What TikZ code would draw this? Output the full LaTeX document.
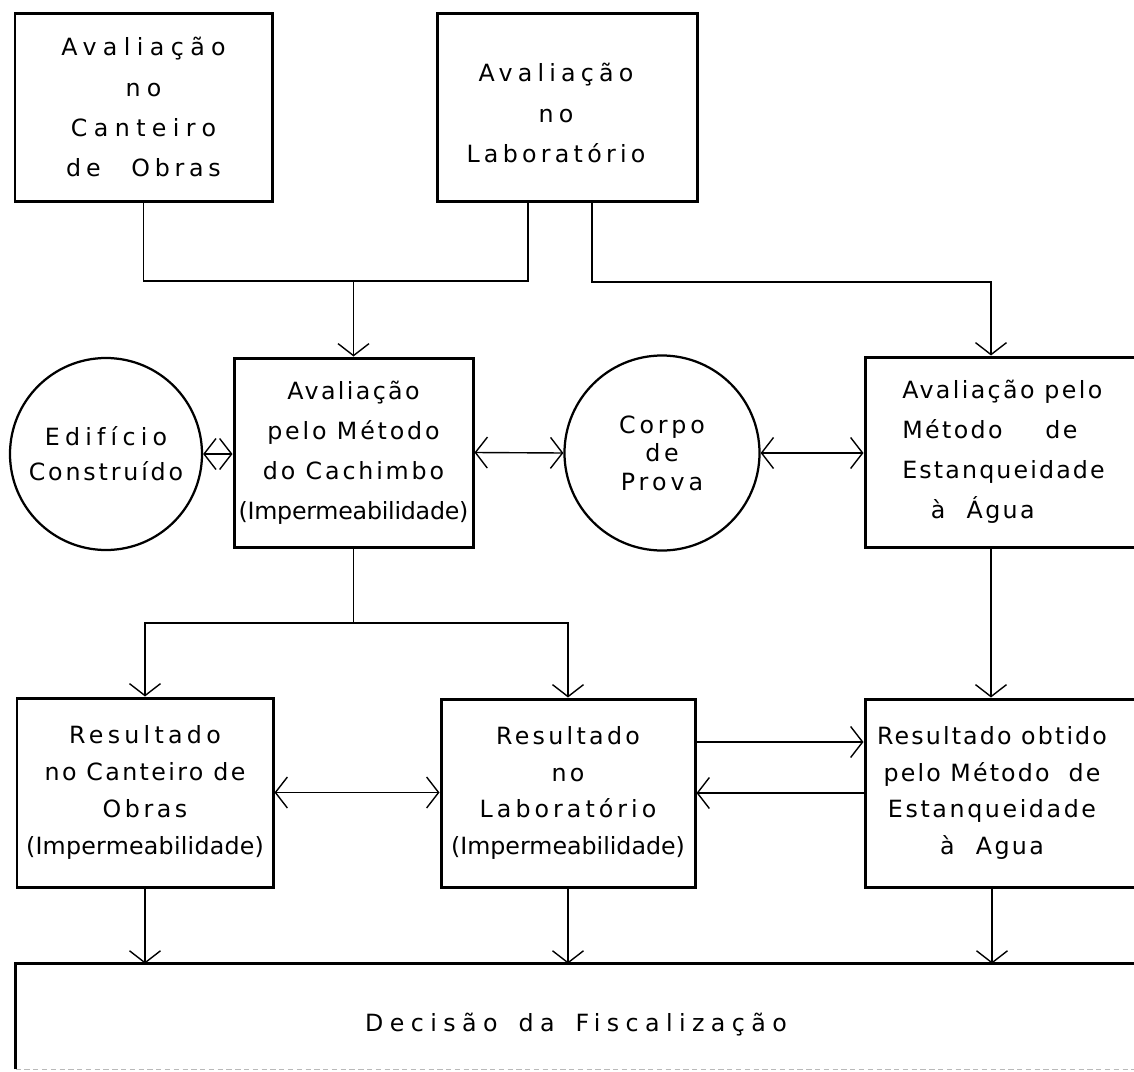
\documentclass[tikz,border=0pt]{standalone}
\usepackage{fontspec}
\setmainfont{DejaVu Sans}
\usetikzlibrary{arrows.meta}
\newlength\unitpx
\setlength\unitpx{0.02cm}
% letter-spaced text, spacing in percent of the font size
\newcommand\lsp[2]{{\addfontfeatures{LetterSpace=#1}#2}}
\begin{document}
\begin{tikzpicture}[x=0.02cm,y=-0.02cm,
  boxline/.style={line width=0.06cm},
  box/.style={draw, boxline, rectangle, inner sep=0pt},
  ring/.style={draw, circle, line width=0.045cm, inner sep=0pt},
  conn/.style={line width=0.028cm},
  txt/.style={align=center, font=\fontsize{13.5pt}{#1}\selectfont},
  >={Straight Barb[length=0.24cm,width=0.62cm]}
]
\fill[white] (0,0) rectangle (1134,1072);
\useasboundingbox (0,0) rectangle (1134,1072);
\clip (0,0) rectangle (1134,1072);

% top row
\node[box, txt=22.8pt, minimum width=257\unitpx, minimum height=188\unitpx] (b1) at (143.5,107)
  {\lsp{27}{Avaliação}\\ \lsp{27}{no}\\ \lsp{27}{Canteiro}\\ \lsp{20}{de\hspace{1.3em}Obras}};
\node[box, minimum width=260\unitpx, minimum height=188\unitpx] (b2) at (567,107) {};
\node[txt=22.8pt, inner sep=0pt] (b2t) at (556,113)
  {\lsp{22}{Avaliação}\\ \lsp{22}{no}\\ \lsp{18}{Laboratório}};

% middle row
\node[ring, txt=19.9pt, minimum size=192\unitpx] (c1) at (106,454)
  {\lsp{22}{Edifício}\\ \lsp{12}{Construído}};
\node[box, txt=22.8pt, minimum width=239\unitpx, minimum height=189\unitpx] (b3) at (353.5,452.5)
  {\lsp{10}{Avaliação}\\ \lsp{12}{pelo Método}\\ \lsp{12}{do Cachimbo}\\ \lsp{-1}{(Impermeabilidade)}};
\node[ring, txt=16.2pt, minimum size=195\unitpx] (c2) at (662,453)
  {\lsp{16}{Corpo}\\ \lsp{16}{de}\\ \lsp{17}{Prova}};
\node[box, minimum width=295\unitpx, minimum height=190\unitpx] (b4) at (1012.5,452) {};
\node[txt=22.8pt, align=left, anchor=west, inner sep=0pt] (b4t) at (902,452)
  {\lsp{10}{Avaliação pelo}\\ \lsp{10}{Método\hspace{1.8em}de}\\ \lsp{9}{Estanqueidade}\\ \hspace*{1.2em}\lsp{10}{à\hspace{0.9em}Água}};

% result row
\node[box, txt=21pt, minimum width=256\unitpx, minimum height=189\unitpx] (b5) at (145,792.5)
  {\lsp{18}{Resultado}\\ \lsp{10}{no Canteiro de}\\ \lsp{15}{Obras}\\ \lsp{1}{(Impermeabilidade)}};
\node[box, txt=21pt, minimum width=254\unitpx, minimum height=188\unitpx] (bl) at (568,793)
  {\lsp{14}{Resultado}\\ \lsp{14}{no}\\ \lsp{17}{Laboratório}\\ \lsp{0}{(Impermeabilidade)}};
\node[box, minimum width=295\unitpx, minimum height=188\unitpx] (b6) at (1012.5,793) {};
\node[txt=21pt, inner sep=0pt] (b6t) at (992,793)
  {\lsp{9}{Resultado obtido}\\ \lsp{9}{pelo Método\hspace{0.8em}de}\\ \lsp{11}{Estanqueidade}\\ \lsp{10}{à\hspace{0.9em}Agua}};

% decision box
\node[inner sep=0pt, minimum width=1124\unitpx, minimum height=105\unitpx] (b7) at (578,1016.5) {};
\draw[boxline] (b7.south west) -- (b7.north west) -- (b7.north east);
\draw[line width=0.03cm, gray!55, dash pattern=on 3pt off 2pt] (b7.south west) -- (b7.south east);
\node[txt=16pt] (b7t) at (576,1025) {\lsp{27}{Decisão\hspace{0.3em} da\hspace{0.3em} Fiscalização}};

% connectors
\coordinate (ya) at (0,281);
\coordinate (yb) at (0,623);
\coordinate (ja) at (b3.north |- ya);
\coordinate (jb) at (b3.south |- yb);
\coordinate (xa) at (528,0);
\coordinate (xb) at (592,0);
\coordinate (jc) at (991,282);
\coordinate (xr) at (991,0);
\coordinate (xs) at (992,0);

\draw[conn] (b1.south) |- (ja) -| (xa |- b2.south);
\draw[conn,->] (ja) -- (b3.north);
\draw[conn,->] (xb |- b2.south) |- (jc) -- (xr |- b4.north);

\draw[conn,<->] (c1.east) -- (c1.east -| b3.west);
\draw[conn,<->] (b3.east) -- (c2.west);
\draw[conn,<->] (c2.east) -- (c2.east -| b4.west);

\draw[conn] (b3.south) -- (jb);
\draw[conn,->] (jb) -| (b5.north);
\draw[conn,->] (jb) -| (bl.north);
\draw[conn,->] (xr |- b4.south) -- (xr |- b6.north);

\coordinate (p1) at ([yshift=51\unitpx]bl.east);
\draw[conn,<->] (b5.east) -- (b5.east -| bl.west);
\draw[conn,->] (p1) -- (p1 -| b6.west);
\draw[conn,->] (b6.west |- bl.east) -- (bl.east);

\draw[conn,->] (b5.south) -- (b5.south |- b7.north);
\draw[conn,->] (bl.south) -- (bl.south |- b7.north);
\draw[conn,->] (xs |- b6.south) -- (xs |- b7.north);
\end{tikzpicture}
\end{document}
